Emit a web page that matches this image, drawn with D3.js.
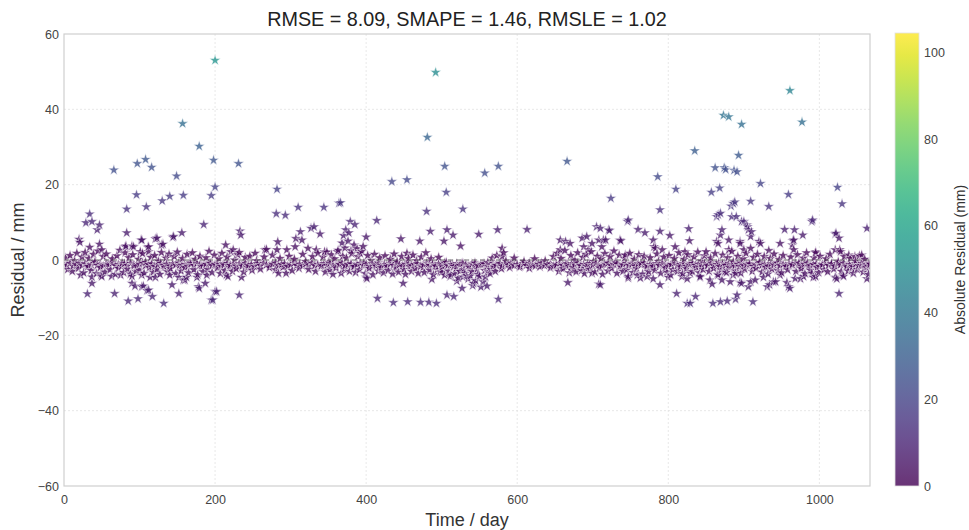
<!DOCTYPE html>
<html><head><meta charset="utf-8">
<script src="https://cdn.jsdelivr.net/npm/d3@7"></script>
<style>body{margin:0;background:#fff;} svg{display:block;font-family:"Liberation Sans",Arial,sans-serif;}</style>
</head><body><svg id="chart" width="969" height="530"></svg>
<script>
const titleText = "RMSE = 8.09, SMAPE = 1.46, RMSLE = 1.02";
const xLabel = "Time / day";
const yLabel = "Residual / mm";
const colorLabel = "Absolute Residual (mm)";
const xTicks = [0, 200, 400, 600, 800, 1000];
const yTicks = [-60, -40, -20, 0, 20, 40, 60];
const colorTicks = [0, 20, 40, 60, 80, 100];
const xDomain = [0, 1067];
const yDomain = [-60, 60];
const colorDomain = [0, 104.5];

// [day, residual] — points well above zero
const upperPoints = [
[200,53.0],[157,36.2],[179,30.2],[198,26.5],[231,25.6],[66,23.9],[97,25.6],[108,26.7],[116,24.6],[149,22.3],
[200,19.4],[195,17.1],[96,17.3],[158,17.2],[140,16.9],[130,15.7],[83,13.5],[109,14.1],[34,12.2],[29,9.9],
[37,10.2],[47,9.3],[44,8.0],[185,9.4],[83,7.2],[156,7.2],[144,6.0],[233,7.7],[234,6.6],[102,5.3],[121,5.6],
[131,4.2],[20,5.5],[21,4.7],[34,3.4],[47,4.2],[50,2.7],[82,3.7],[90,3.7],[111,3.4],[101,2.2],[214,4.0],
[224,2.7],[232,2.0],[81,3.5],[92,3.5],[103,5.3],[112,3.5],[123,5.8],[129,4.0],[145,6.2],
[282,18.8],[281,12.3],[293,11.9],[310,14.0],[344,14.0],[364,15.1],[283,4.8],[268,2.8],[295,2.7],[307,5.7],
[313,7.5],[327,8.4],[331,8.8],[339,6.9],[253,1.8],[266,2.7],[282,2.7],[306,3.5],[315,5.3],[323,3.1],[334,2.7],[345,2.2],
[366,15.2],[414,10.5],[379,10.2],[385,9.4],[373,8.0],[400,6.1],[446,5.6],[471,5.0],[485,7.6],[507,8.0],
[503,5.0],[515,6.6],[525,3.7],[549,6.8],[574,8.0],[613,8.1],[580,3.1],[582,1.9],[580,0.9],
[492,49.8],[481,32.6],[504,24.9],[434,20.8],[454,21.3],[557,23.1],[575,24.9],[666,26.2],[506,18.0],[528,13.5],[480,12.9],
[368,4.5],[372,3.2],[376,5.0],[380,2.5],[384,4.0],[388,3.0],[392,1.8],[362,2.2],[396,3.6],[370,6.5],[377,7.2],[454,1.8],
[961,45.0],[977,36.6],[873,38.4],[880,38.0],[897,36.0],[835,29.0],[862,24.5],[874,24.5],[876,24.0],[887,23.8],
[893,27.8],[891,23.4],[786,22.1],[724,16.4],[810,18.8],[857,18.0],[868,19.1],[922,20.3],[959,17.4],[1024,19.3],[1030,14.9],
[789,13.3],[909,15.6],[933,14.2],[883,14.3],[888,15.4],[886,15.0],[864,11.5],[869,12.4],[866,12.0],[884,11.5],[890,11.5],
[897,10.2],[904,9.3],[906,8.0],[900,10.2],[905,8.8],[910,7.5],[909,6.2],[920,4.9],[895,4.9],[900,2.7],[909,3.1],
[746,10.2],[760,8.1],[769,7.2],[789,7.6],[802,6.5],[827,8.3],[828,5.1],[722,7.8],[737,5.1],[954,8.1],[967,8.0],
[978,6.6],[990,10.2],[991,10.6],[965,5.1],[1022,7.1],[1026,5.8],[1027,2.7],[1063,8.4],[780,5.3],[783,3.1],[792,2.7],
[809,3.5],[822,2.2],[850,2.2],[869,6.6],[864,4.9],[866,4.4],[871,8.0],[880,5.3],[880,2.7],[895,4.4],[922,4.4],[933,2.5],
[948,4.4],[966,2.7],[995,2.2],[1021,6.9],[966,5.3],[964,4.0],[995,1.9],[1021,2.7],[1028,2.2],[1039,1.3],[1047,0.9],[1056,1.3],
[657,5.3],[664,4.9],[670,4.4],[657,2.7],[686,5.8],[692,6.2],[688,3.5],[694,2.7],[705,8.8],[710,8.4],[699,4.4],
[708,5.3],[721,8.0],[714,5.3],[717,5.3],[736,5.3],[712,3.5],[743,1.3],[747,10.6],[781,3.5]
];

// [day, residual] — points well below zero
const lowerPoints = [
[22,-4.0],[37,-6.2],[31,-9.0],[67,-8.9],[85,-10.9],[98,-10.3],[94,-6.9],[105,-6.9],[110,-8.1],[117,-9.7],
[132,-11.5],[121,-4.6],[143,-6.6],[152,-8.9],[158,-5.3],[179,-7.5],[187,-6.2],[197,-10.6],[202,-8.4],[232,-9.3],
[235,-4.6],[217,-4.4],[284,-3.5],[294,-3.5],[37,-4.5],[49,-4.0],[63,-4.3],[75,-4.0],[90,-4.3],[103,-4.0],
[114,-4.6],[140,-4.0],[152,-4.6],[162,-4.6],[176,-4.6],[189,-4.0],[215,-4.0],[50,-4.4],[90,-6.2],[103,-7.1],
[112,-8.0],[160,-5.3],[178,-7.1],[200,-8.4],[195,-10.6],
[415,-10.2],[436,-11.3],[455,-11.1],[472,-11.2],[483,-11.2],[493,-11.5],[400,-4.6],[449,-6.2],[507,-9.3],
[516,-9.7],[527,-7.5],[542,-6.2],[560,-6.9],[575,-10.4],[487,-5.1],[401,-4.9],
[531,-3.5],[535,-5.0],[538,-4.2],[541,-6.8],[545,-5.5],[548,-3.8],[552,-7.2],[555,-5.8],[558,-4.5],[562,-3.2],
[565,-2.5],[568,-1.8],[571,-3.0],[528,-4.5],[524,-3.0],[520,-5.6],[512,-4.0],[500,-3.2],
[747,-4.8],[763,-4.8],[780,-5.0],[800,-4.6],[825,-5.0],[842,-4.6],[858,-6.4],[871,-5.3],[882,-5.8],[895,-6.0],
[909,-5.8],[926,-4.6],[939,-5.8],[957,-6.0],[975,-5.0],[992,-4.6],[1023,-5.0],[1032,-4.3],[1063,-5.0],
[811,-8.9],[825,-11.5],[829,-11.5],[836,-9.7],[859,-11.5],[869,-11.1],[878,-10.9],[889,-10.4],[789,-6.6],
[710,-6.6],[912,-11.1],[891,-9.3],[1026,-8.9],[1021,-4.6],[1031,-4.0],[961,-7.5],[934,-6.6],[667,-6.0],[708,-6.4],
[659,-2.2],[672,-2.7],[690,-2.2],[699,-3.5],[931,-7.1],[942,-5.8],[948,-4.0],[959,-7.1],[968,-4.9],[979,-4.4],
[990,-3.5],[995,-4.4],[915,-5.3],[906,-7.1],[897,-6.2],[889,-3.5],[747,-4.4],[759,-4.0],[772,-4.4],[803,-4.0],
[818,-4.4],[829,-3.5],[842,-4.4],[855,-5.3],[866,-4.0],[875,-3.1],[886,-4.0]
];

// [day, residual] — scatter close to zero
const nearZeroPoints = [
[2,0.5],[5,-2.5],[8,1.2],[11,-3.0],[14,-0.2],[17,1.8],[19,-2.2],[24,0.8],[26,-3.4],[28,2.0],[31,-1.8],[33,0.4],
[36,-2.8],[39,1.5],[41,-0.5],[43,-3.6],[45,2.4],[48,-2.0],[52,0.9],[54,-3.2],[56,1.6],[58,-1.2],[61,-2.6],[64,0.3],
[68,-3.8],[70,1.1],[72,-2.2],[74,2.6],[77,-0.8],[79,-3.3],[81,1.9],[84,-2.4],[86,0.6],[88,-3.7],[91,1.4],[93,-1.5],
[95,-3.0],[99,0.2],[100,-2.7],[104,1.7],[106,-3.5],[108,-0.6],[112,2.2],[113,-2.0],[115,0.7],[118,-3.2],[120,1.2],
[123,-2.5],[125,-0.3],[127,-3.8],[129,2.0],[133,-1.9],[135,0.5],[137,-3.1],[139,1.6],[141,-2.3],[146,0.9],[148,-3.6],
[150,2.1],[153,-1.4],[155,-2.9],[157,0.4],[160,-2.0],[163,1.5],[165,-3.4],[167,-0.7],[170,1.9],[172,-2.6],[174,0.2],
[177,-3.9],[180,1.0],[182,-1.7],[184,-3.1],[188,0.6],[190,-2.4],[192,2.3],[194,-0.9],[196,-3.3],[199,1.3],[203,-2.1],
[205,0.3],[207,-3.6],[209,1.8],[211,-1.0],[213,-2.8],[216,0.8],[219,-1.9],[221,2.2],[223,-3.0],[226,0.0],[228,-2.3],
[230,1.4],[236,-1.6],[238,-3.2],[240,0.7],[243,-2.0],[246,1.0],[249,-2.7],
[255,-0.2],[260,-2.4],[265,0.8],[272,-2.0],[276,1.3],[280,-2.6],[286,0.4],[290,-1.9],[298,1.0],[302,-2.8],[305,0.2],
[311,-2.2],[316,1.5],[320,-0.4],[324,-2.5],[329,0.9],[333,-3.0],[336,1.8],
[341,-1.5],[343,0.8],[346,-3.2],[348,2.1],[350,-0.6],[352,-2.7],[354,1.4],[356,-3.8],[358,0.3],[360,-2.1],[363,2.6],
[365,-1.2],[367,-3.5],[369,1.0],[371,-2.4],[374,0.5],[378,-3.0],[381,1.7],[383,-1.8],[386,-3.3],[389,0.9],[391,-2.6],
[394,2.3],[397,-0.8],[399,-3.6],[402,1.2],[404,-2.2],[407,-0.1],[409,-3.9],[411,1.5],[413,-1.6],[416,-2.9],[418,0.6],
[420,-2.0],[423,-3.4],[425,1.1],[427,-1.3],[429,-2.8],[432,0.2],[435,-3.7],[437,1.6],[439,-2.1],[441,-0.5],[443,-3.2],
[447,0.9],[450,-2.5],[452,-3.8],[456,0.4],[458,-1.7],[460,-3.0],[462,1.3],[465,-2.3],[467,-0.2],[469,-3.5],[473,0.8],
[475,-2.0],[477,-3.3],[479,1.9],[482,-1.1],[484,-2.7],[486,0.3],[489,-3.9],[491,-1.4],[494,-2.6],[496,0.7],[498,-3.1],
[501,-1.8],[504,-4.0],[506,-0.6],[509,-2.9],[511,-4.4],[514,-1.3],[517,-3.6],[519,-2.2],[522,-4.8],[526,-1.0],[529,-2.6],
[533,-4.1],[537,-2.0],[540,-3.0],[543,-1.5],[547,-2.4],[550,-4.3],[554,-1.2],[557,-2.8],[561,-0.7],[564,-3.6],[567,0.5],
[570,-1.9],[573,1.2],[577,-0.9],[579,-2.3],
[585,-0.3],[590,-2.0],[596,0.5],[603,-1.9],[609,-0.4],[616,-2.2],[623,0.3],[630,-1.8],[637,-0.2],[644,-2.1],[648,0.9],
[651,-1.6],[653,1.8],[655,-3.0],[658,0.4],[661,-2.3],[663,2.5],[666,-1.0],[669,-3.4],[671,1.2],[674,-2.0],[676,0.0],
[678,-3.1],[680,1.9],[683,-1.5],[685,-2.8],[687,0.7],[689,-3.6],[691,1.5],[693,-1.1],[696,-2.5],[698,2.2],[701,-0.4],
[703,-3.2],[706,1.0],[709,-2.1],[711,0.3],[713,-3.8],[716,1.7],[718,-1.3],[720,-2.9],[723,0.9],[725,-2.2],[728,2.4],
[730,-0.6],[732,-3.5],[735,1.3],[738,-1.9],[740,-3.0],[742,0.5],[745,-2.6],[749,1.8],[751,-1.0],[753,-3.3],[755,0.2],
[758,-2.2],[761,1.4],[764,-0.8],[766,-3.7],[768,1.0],[771,-2.0],[774,-3.1],[776,0.6],[778,-1.6],[782,-2.7],[785,1.6],
[787,-0.4],[790,-3.5],[794,0.8],[796,-2.1],[798,-3.2],[801,1.2],[804,-1.2],[806,-2.6],[808,0.4],[812,-3.0],[814,1.9],
[816,-1.8],[819,-3.6],[821,0.2],[824,-2.3],[826,1.4],[830,-0.9],[832,-3.1],[834,0.8],[837,-2.0],[839,2.1],[841,-3.4],
[844,-0.3],[846,-2.5],[848,1.1],[852,-1.5],[854,-3.0],[856,0.5],[860,-2.2],[862,1.7],[865,-3.8],[867,-0.7],[870,-2.6],
[872,1.3],[875,-1.2],[877,-3.3],[879,0.6],[881,-2.0],[884,2.3],[886,-0.5],[889,-2.9],[892,1.0],[894,-1.7],[896,-3.5],
[899,0.3],[901,-2.4],[903,1.8],[907,-1.1],[911,-3.0],[913,0.7],[916,-2.2],[918,1.5],[921,-0.6],[924,-3.2],[927,0.9],
[929,-1.9],[932,-3.7],[935,0.4],[937,-2.4],[940,1.6],[943,-1.0],[945,-2.8],[947,0.1],[950,-3.4],[952,1.2],[955,-1.5],
[958,-2.6],[962,0.8],[964,-1.2],[969,-3.0],[971,1.4],[973,-0.8],[976,-2.3],[979,0.5],[981,-3.6],[983,1.9],[986,-1.6],
[988,-2.7],[993,0.6],[997,-2.0],[999,-3.3],[1001,1.0],[1004,-1.3],[1006,-2.6],[1009,0.3],[1011,-3.1],[1014,1.5],
[1016,-1.0],[1019,-2.4],[1025,-0.5],[1029,-3.0],[1033,0.9],[1036,-1.8],[1038,-2.9],[1041,0.4],[1043,-2.1],[1045,-3.5],
[1048,-0.3],[1050,-2.5],[1053,1.1],[1055,-1.4],[1058,-3.2],[1060,0.2],[1062,-2.0],[1065,-3.8],[1066,-0.9]
];

// [day, residual] — the dense baseline band just below zero
const baselinePoints = [
[0,-1.1],[4,-1.4],[8,-0.9],[12,-1.6],[16,-1.2],[20,-0.8],[24,-1.5],[28,-1.0],[32,-1.7],[36,-1.3],[40,-0.9],[44,-1.4],
[48,-1.1],[52,-1.6],[56,-1.0],[60,-1.3],[64,-0.8],[68,-1.5],[72,-1.2],[76,-1.7],[80,-1.0],[84,-1.4],[88,-0.9],[92,-1.3],
[96,-1.6],[100,-1.1],[104,-0.8],[108,-1.5],[112,-1.2],[116,-1.0],[120,-1.7],[124,-1.3],[128,-0.9],[132,-1.4],[136,-1.1],
[140,-1.6],[144,-1.0],[148,-1.3],[152,-0.8],[156,-1.5],[160,-1.2],[164,-1.7],[168,-1.0],[172,-1.4],[176,-0.9],[180,-1.3],
[184,-1.6],[188,-1.1],[192,-0.8],[196,-1.5],[200,-1.2],[204,-1.0],[208,-1.7],[212,-1.3],[216,-0.9],[220,-1.4],[224,-1.1],
[228,-1.6],[232,-1.0],[236,-1.3],[240,-0.8],[244,-1.5],[248,-1.2],[252,-1.7],[256,-1.0],[260,-1.4],[264,-0.9],[268,-1.3],
[272,-1.6],[276,-1.1],[280,-0.8],[284,-1.5],[288,-1.2],[292,-1.0],[296,-1.7],[300,-1.3],[304,-0.9],[308,-1.4],[312,-1.1],
[316,-1.6],[320,-1.0],[324,-1.3],[328,-0.8],[332,-1.5],[336,-1.2],[340,-1.7],[344,-1.0],[348,-1.4],[352,-0.9],[356,-1.3],
[360,-1.6],[364,-1.1],[368,-0.8],[372,-1.5],[376,-1.2],[380,-1.0],[384,-1.7],[388,-1.3],[392,-0.9],[396,-1.4],[400,-1.1],
[404,-1.6],[408,-1.0],[412,-1.3],[416,-0.8],[420,-1.5],[424,-1.2],[428,-1.7],[432,-1.0],[436,-1.4],[440,-0.9],[444,-1.3],
[448,-1.6],[452,-1.1],[456,-0.8],[460,-1.5],[464,-1.2],[468,-1.0],[472,-1.7],[476,-1.3],[480,-0.9],[484,-1.4],[488,-1.1],
[492,-1.6],[496,-1.0],[500,-1.3],[504,-0.8],[508,-1.5],[512,-1.2],[516,-1.7],[520,-1.0],[524,-1.4],[528,-0.9],[532,-1.3],
[536,-1.6],[540,-1.1],[544,-0.8],[548,-1.5],[552,-1.2],[556,-1.0],[560,-1.7],[564,-1.3],[568,-0.9],[572,-1.4],[576,-1.1],
[580,-1.6],[584,-1.0],[588,-1.3],[592,-0.8],[596,-1.5],[600,-1.2],[604,-1.7],[608,-1.0],[612,-1.4],[616,-0.9],[620,-1.3],
[624,-1.6],[628,-1.1],[632,-0.8],[636,-1.5],[640,-1.2],[644,-1.0],[648,-1.7],[652,-1.3],[656,-0.9],[660,-1.4],[664,-1.1],
[668,-1.6],[672,-1.0],[676,-1.3],[680,-0.8],[684,-1.5],[688,-1.2],[692,-1.7],[696,-1.0],[700,-1.4],[704,-0.9],[708,-1.3],
[712,-1.6],[716,-1.1],[720,-0.8],[724,-1.5],[728,-1.2],[732,-1.0],[736,-1.7],[740,-1.3],[744,-0.9],[748,-1.4],[752,-1.1],
[756,-1.6],[760,-1.0],[764,-1.3],[768,-0.8],[772,-1.5],[776,-1.2],[780,-1.7],[784,-1.0],[788,-1.4],[792,-0.9],[796,-1.3],
[800,-1.6],[804,-1.1],[808,-0.8],[812,-1.5],[816,-1.2],[820,-1.0],[824,-1.7],[828,-1.3],[832,-0.9],[836,-1.4],[840,-1.1],
[844,-1.6],[848,-1.0],[852,-1.3],[856,-0.8],[860,-1.5],[864,-1.2],[868,-1.7],[872,-1.0],[876,-1.4],[880,-0.9],[884,-1.3],
[888,-1.6],[892,-1.1],[896,-0.8],[900,-1.5],[904,-1.2],[908,-1.0],[912,-1.7],[916,-1.3],[920,-0.9],[924,-1.4],[928,-1.1],
[932,-1.6],[936,-1.0],[940,-1.3],[944,-0.8],[948,-1.5],[952,-1.2],[956,-1.7],[960,-1.0],[964,-1.4],[968,-0.9],[972,-1.3],
[976,-1.6],[980,-1.1],[984,-0.8],[988,-1.5],[992,-1.2],[996,-1.0],[1000,-1.7],[1004,-1.3],[1008,-0.9],[1012,-1.4],
[1016,-1.1],[1020,-1.6],[1024,-1.0],[1028,-1.3],[1032,-0.8],[1036,-1.5],[1040,-1.2],[1044,-1.7],[1048,-1.0],[1052,-1.4],
[1056,-0.9],[1060,-1.3],[1064,-1.6],[1067,-1.1]
];

const svg = d3.select("#chart");
const W = 969, H = 530;
const m = {left: 64, right: 870, top: 34, bottom: 486};

const x = d3.scaleLinear().domain(xDomain).range([m.left, m.right]);
const y = d3.scaleLinear().domain(yDomain).range([m.bottom, m.top]);
const cNorm = d3.scaleLinear().domain(colorDomain).range([0, 1]).clamp(true);
const color = v => d3.interpolateViridis(cNorm(v));

svg.append("rect").attr("width", W).attr("height", H).attr("fill", "#fff");

// grid
const grid = svg.append("g");
grid.selectAll("line.gx").data(xTicks.filter(t => t > 0)).join("line")
  .attr("x1", d => x(d)).attr("x2", d => x(d)).attr("y1", m.top).attr("y2", m.bottom)
  .attr("stroke", "#e2e2e2").attr("stroke-width", 0.8).attr("stroke-dasharray", "2,2");
grid.selectAll("line.gy").data(yTicks.filter(t => t > -60 && t < 60)).join("line")
  .attr("x1", m.left).attr("x2", m.right).attr("y1", d => y(d)).attr("y2", d => y(d))
  .attr("stroke", "#e2e2e2").attr("stroke-width", 0.8).attr("stroke-dasharray", "2,2");

// clip
svg.append("clipPath").attr("id", "plotclip").append("rect")
  .attr("x", m.left).attr("y", m.top).attr("width", m.right - m.left).attr("height", m.bottom - m.top);

const allPoints = [...baselinePoints, ...nearZeroPoints, ...lowerPoints, ...upperPoints]
  .map(p => ({day: p[0], res: p[1]}))
  .sort((a, b) => a.day - b.day);

const star = d3.symbol().type(d3.symbolStar).size(38);
svg.append("g").attr("clip-path", "url(#plotclip)")
  .selectAll("path").data(allPoints).join("path")
  .attr("d", star)
  .attr("transform", d => `translate(${x(d.day)},${y(d.res)})`)
  .attr("fill", d => color(Math.abs(d.res)))
  .attr("fill-opacity", 0.78)
  .attr("stroke", "#ffffff")
  .attr("stroke-opacity", 0.75)
  .attr("stroke-width", 0.7);

// zero line
svg.append("line")
  .attr("x1", m.left).attr("x2", m.right).attr("y1", y(0)).attr("y2", y(0))
  .attr("stroke", "#555").attr("stroke-opacity", 0.8).attr("stroke-width", 1)
  .attr("stroke-dasharray", "5,3");

// frame
svg.append("rect").attr("x", m.left).attr("y", m.top)
  .attr("width", m.right - m.left).attr("height", m.bottom - m.top)
  .attr("fill", "none").attr("stroke", "#cfcfcf").attr("stroke-width", 1.2);

// axes
const xAxis = svg.append("g").attr("transform", `translate(0,${m.bottom})`)
  .call(d3.axisBottom(x).tickValues(xTicks).tickFormat(d3.format("d")).tickSize(0).tickPadding(9));
const yAxis = svg.append("g").attr("transform", `translate(${m.left},0)`)
  .call(d3.axisLeft(y).tickValues(yTicks).tickSize(0).tickPadding(5));
[xAxis, yAxis].forEach(a => {
  a.select(".domain").remove();
  a.selectAll("text").attr("font-size", 12.5).attr("fill", "#444")
    .attr("font-family", "'Liberation Sans', Arial, sans-serif");
});

// labels
svg.append("text").attr("x", (m.left + m.right) / 2).attr("y", 26)
  .attr("text-anchor", "middle").attr("font-size", 19.8).attr("fill", "#222").text(titleText);
svg.append("text").attr("x", (m.left + m.right) / 2).attr("y", 526)
  .attr("text-anchor", "middle").attr("font-size", 18).attr("fill", "#333").text(xLabel);
svg.append("text").attr("transform", `translate(24,${(m.top + m.bottom) / 2}) rotate(-90)`)
  .attr("text-anchor", "middle").attr("font-size", 18).attr("fill", "#333").text(yLabel);

// colorbar
const cb = {x: 895, w: 24, top: 33, bottom: 486};
const cy = d3.scaleLinear().domain(colorDomain).range([cb.bottom, cb.top]);
const grad = svg.append("defs").append("linearGradient").attr("id", "vgrad")
  .attr("x1", 0).attr("y1", 1).attr("x2", 0).attr("y2", 0);
d3.range(0, 1.0001, 0.05).forEach(t => {
  grad.append("stop").attr("offset", t).attr("stop-color", d3.interpolateViridis(t));
});
svg.append("rect").attr("x", cb.x).attr("y", cb.top).attr("width", cb.w).attr("height", cb.bottom - cb.top)
  .attr("fill", "url(#vgrad)").attr("opacity", 0.8);
svg.append("rect").attr("x", cb.x).attr("y", cb.top).attr("width", cb.w).attr("height", cb.bottom - cb.top)
  .attr("fill", "none").attr("stroke", "#e0e0e0").attr("stroke-width", 0.8);
const cAxis = svg.append("g").attr("transform", `translate(${cb.x + cb.w},0)`)
  .call(d3.axisRight(cy).tickValues(colorTicks).tickSize(0).tickPadding(5));
cAxis.select(".domain").remove();
cAxis.selectAll("text").attr("font-size", 12.5).attr("fill", "#444")
  .attr("font-family", "'Liberation Sans', Arial, sans-serif");
svg.append("text").attr("transform", `translate(965,${(cb.top + cb.bottom) / 2}) rotate(-90)`)
  .attr("text-anchor", "middle").attr("font-size", 14).attr("fill", "#333").text(colorLabel);
</script></body></html>
